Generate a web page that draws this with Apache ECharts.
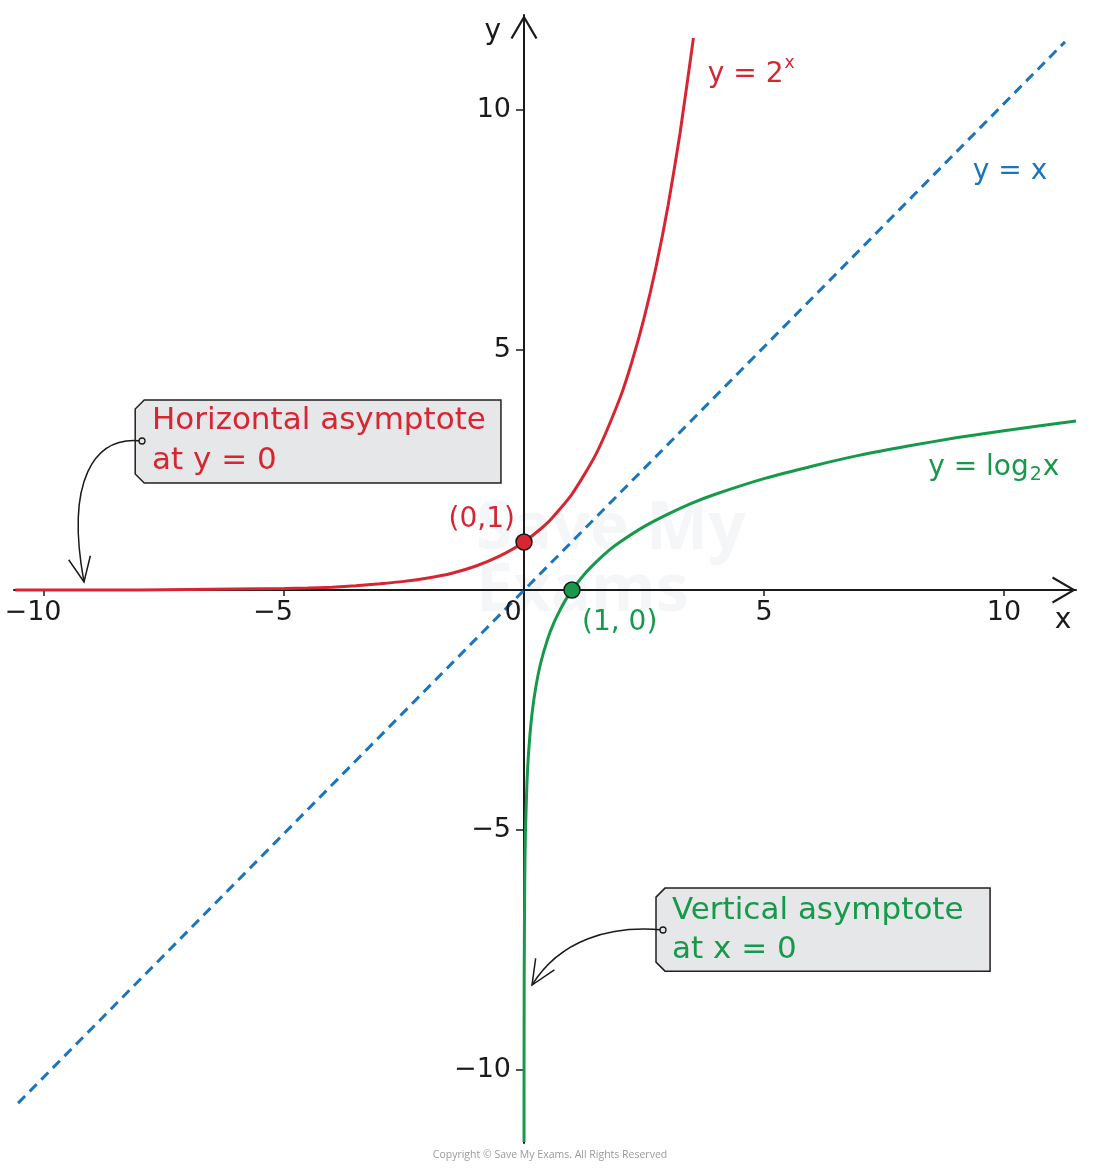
<!DOCTYPE html>
<html>
<head>
<meta charset="utf-8">
<script src="https://cdn.jsdelivr.net/npm/echarts@6/dist/echarts.min.js"></script>
<style>
  html, body { margin: 0; padding: 0; background: #fff; }
  #chart { width: 1100px; height: 1173px; }
</style>
</head>
<body>
<div id="chart"></div>
<script>
// 曲线数据
const expX = [-10.6, -9, -8, -7, -6, -5, -4.5, -4, -3.5, -3, -2.5, -2, -1.5, -1, -0.5, 0, 0.5, 1, 1.5, 2, 2.25, 2.5, 2.75, 3, 3.25, 3.53];
const expY = [0, 0, 0, 0.01, 0.02, 0.03, 0.04, 0.06, 0.09, 0.13, 0.18, 0.25, 0.35, 0.5, 0.71, 1, 1.41, 2, 2.83, 4, 4.76, 5.66, 6.73, 8, 9.51, 11.5];

const logX = [0.00035, 0.001, 0.004, 0.016, 0.03, 0.0625, 0.09, 0.125, 0.18, 0.25, 0.35, 0.5, 0.62, 0.75, 0.87, 1, 1.25, 1.5, 1.75, 2, 2.5, 3, 3.5, 4, 5, 6, 7, 8, 9, 10, 11.5];
const logY = [-11.5, -10, -8, -6, -5.06, -4, -3.47, -3, -2.47, -2, -1.51, -1, -0.69, -0.42, -0.2, 0, 0.32, 0.58, 0.81, 1, 1.32, 1.58, 1.81, 2, 2.32, 2.58, 2.81, 3, 3.17, 3.32, 3.52];

const lineX = [-10.54, 11.27];
const lineY = [-10.69, 11.42];

const keyX = [0, 1];
const keyY = [1, 0];

const xTicks = [-10, -5, 5, 10];
const xLabels = [-10, -5, 0, 5, 10];
const yTicks = [-10, -5, 5, 10];
const yLabels = [-10, -5, 5, 10];

const RED = '#d62631';
const GREEN = '#16994a';
const BLUE = '#1b75bc';
const INK = '#1a1a1a';
const FONT = 'DejaVu Sans';

// 文字标注（数据坐标）
const notes = [
  { text: 'y = 2{sup|x}', x: 3.83, y: 10.73, color: RED, align: 'left' },
  { text: 'y = x', x: 9.35, y: 8.71, color: BLUE, align: 'left' },
  { text: 'y = log{sub|2}x', x: 8.42, y: 2.54, color: GREEN, align: 'left' },
  { text: '(0,1)', x: -0.19, y: 1.46, color: RED, align: 'right' },
  { text: '(1, 0)', x: 1.21, y: -0.69, color: GREEN, align: 'left' },
  { text: 'x', x: 11.23, y: -0.63, color: INK, align: 'center' },
  { text: 'y', x: -0.65, y: 11.63, color: INK, align: 'center' }
];

// 说明框
const boxes = [
  { x0: -8.10, x1: -0.48, y0: 3.958, y1: 2.23, tx: -7.75, ty: [3.52, 2.69],
    lines: ['Horizontal asymptote', 'at y = 0'], color: RED },
  { x0: 2.75, x1: 9.71, y0: -6.21, y1: -7.94, tx: 3.083, ty: [-6.69, -7.5],
    lines: ['Vertical asymptote', 'at x = 0'], color: GREEN }
];

// 弯箭头：起点、两个控制点、终点
const arrows = [
  [[-7.958, 3.104], [-8.98, 3.22], [-9.55, 2.25], [-9.167, 0.167]],
  [[2.896, -7.083], [1.79, -6.98], [0.75, -7.29], [0.167, -8.229]]
];

const pairs = (xs, ys) => xs.map((x, i) => [x, ys[i]]);
const minus = v => (v < 0 ? '\u2212' + (-v) : String(v));
const chevron = 'path://M0,23 L13.5,0 L27,23 L25,24 L13.5,4.2 L2,24 Z';

const chart = echarts.init(document.getElementById('chart'));

const axisCommon = {
  type: 'value',
  axisLine: {
    onZero: true,
    lineStyle: { color: INK, width: 2 },
    symbol: ['none', chevron],
    symbolSize: [27, 24],
    symbolOffset: [0, -12]
  },
  axisLabel: { show: false },
  splitLine: { show: false }
};

chart.setOption({
  animation: false,
  grid: { left: 14, right: 24, top: 15, bottom: 30, containLabel: false, outerBoundsMode: 'none' },
  xAxis: Object.assign({}, axisCommon, {
    min: -10.625, max: 11.5,
    axisTick: { customValues: xTicks, length: 6, lineStyle: { color: INK, width: 1.5 } }
  }),
  yAxis: Object.assign({}, axisCommon, {
    min: -11.52, max: 11.979,
    axisTick: { customValues: yTicks, length: 8, lineStyle: { color: INK, width: 1.5 } }
  }),
  series: [
    {
      name: 'y = x', type: 'line', data: pairs(lineX, lineY),
      showSymbol: false, z: 3,
      lineStyle: { color: BLUE, width: 3, type: [10, 6.5] }
    },
    {
      name: 'y = 2^x', type: 'line', data: pairs(expX, expY),
      showSymbol: false, smooth: 0.2, z: 4,
      lineStyle: { color: RED, width: 3 }
    },
    {
      name: 'y = log2 x', type: 'line', data: pairs(logX, logY),
      showSymbol: false, smooth: 0.2, z: 4,
      lineStyle: { color: GREEN, width: 3 }
    },
    {
      name: 'points', type: 'scatter', z: 6, symbolSize: 16,
      data: pairs(keyX, keyY).map((p, i) => ({
        value: p,
        itemStyle: { color: i === 0 ? RED : GREEN, borderColor: INK, borderWidth: 1.5, opacity: 1 }
      }))
    }
  ]
});

// 标注层：用坐标系换算成像素
const px = p => chart.convertToPixel({ gridIndex: 0 }, p);
const graphics = [];
const tickFont = '27px "' + FONT + '"';

// 坐标轴刻度文字
xLabels.forEach(v => {
  const p = px([v, 0]);
  graphics.push({
    type: 'text', z: 12,
    style: { x: p[0] - (v <= 0 ? 11 : 0), y: p[1] + 23, text: minus(v), fill: INK, font: tickFont, align: 'center', verticalAlign: 'middle' }
  });
});
yLabels.forEach(v => {
  const p = px([0, v]);
  graphics.push({
    type: 'text', z: 12,
    style: { x: p[0] - 13, y: p[1], text: minus(v), fill: INK, font: tickFont, align: 'right', verticalAlign: 'middle' }
  });
});

// 水印
const wm = px([-1, 0.6]);
graphics.push({
  type: 'text', z: 0, silent: true,
  style: {
    x: wm[0], y: wm[1], text: 'Save My\nExams', fill: '#f5f6f8',
    font: 'bold 66px "Open Sans"', lineHeight: 62, verticalAlign: 'middle'
  }
});

boxes.forEach(b => {
  const tl = px([b.x0, b.y0]);
  const br = px([b.x1, b.y1]);
  const c = 9;
  graphics.push({
    type: 'polygon', z: 10,
    shape: { points: [[tl[0] + c, tl[1]], [br[0], tl[1]], [br[0], br[1]], [tl[0] + c, br[1]], [tl[0], br[1] - c], [tl[0], tl[1] + c]] },
    style: { fill: '#e6e7e8', stroke: '#231f20', lineWidth: 1.5 }
  });
  b.lines.forEach((t, i) => {
    const p = px([b.tx, b.ty[i]]);
    graphics.push({
      type: 'text', z: 12,
      style: { x: p[0], y: p[1], text: t, fill: b.color, font: '31px "' + FONT + '"', verticalAlign: 'middle' }
    });
  });
});

arrows.forEach(a => {
  const [p0, p1, p2, p3] = a.map(px);
  graphics.push({
    type: 'bezierCurve', z: 11,
    shape: { x1: p0[0], y1: p0[1], cpx1: p1[0], cpy1: p1[1], cpx2: p2[0], cpy2: p2[1], x2: p3[0], y2: p3[1] },
    style: { stroke: INK, lineWidth: 1.5, fill: null }
  });
  // 箭头：沿终点切线反向张开
  const dx = p2[0] - p3[0], dy = p2[1] - p3[1];
  const len = Math.hypot(dx, dy);
  const ux = dx / len, uy = dy / len;
  const arm = (ang) => [p3[0] + 27 * (ux * Math.cos(ang) - uy * Math.sin(ang)),
                        p3[1] + 27 * (ux * Math.sin(ang) + uy * Math.cos(ang))];
  graphics.push({
    type: 'polyline', z: 11,
    shape: { points: [arm(0.42), p3, arm(-0.42)] },
    style: { stroke: INK, lineWidth: 1.5, fill: null }
  });
  graphics.push({
    type: 'circle', z: 12,
    shape: { cx: p0[0], cy: p0[1], r: 3 },
    style: { fill: '#e6e7e8', stroke: INK, lineWidth: 1.3 }
  });
});

notes.forEach(n => {
  const p = px([n.x, n.y]);
  graphics.push({
    type: 'text', z: 12,
    style: {
      x: p[0], y: p[1], text: n.text, fill: n.color,
      font: '28px "' + FONT + '"', align: n.align, verticalAlign: 'middle',
      rich: {
        sup: { fontSize: 17, fontFamily: FONT, fill: n.color, padding: [0, 0, 22, 1] },
        sub: { fontSize: 19, fontFamily: FONT, fill: n.color, padding: [14, 1, 0, 1] }
      }
    }
  });
});

graphics.push({
  type: 'text', z: 12,
  style: {
    x: 550, y: 1155, text: 'Copyright \u00a9 Save My Exams. All Rights Reserved',
    fill: '#9a9a9a', font: '10.5px "Open Sans"', align: 'center', verticalAlign: 'middle'
  }
});

chart.setOption({ graphic: { elements: graphics } });
</script>
</body>
</html>
